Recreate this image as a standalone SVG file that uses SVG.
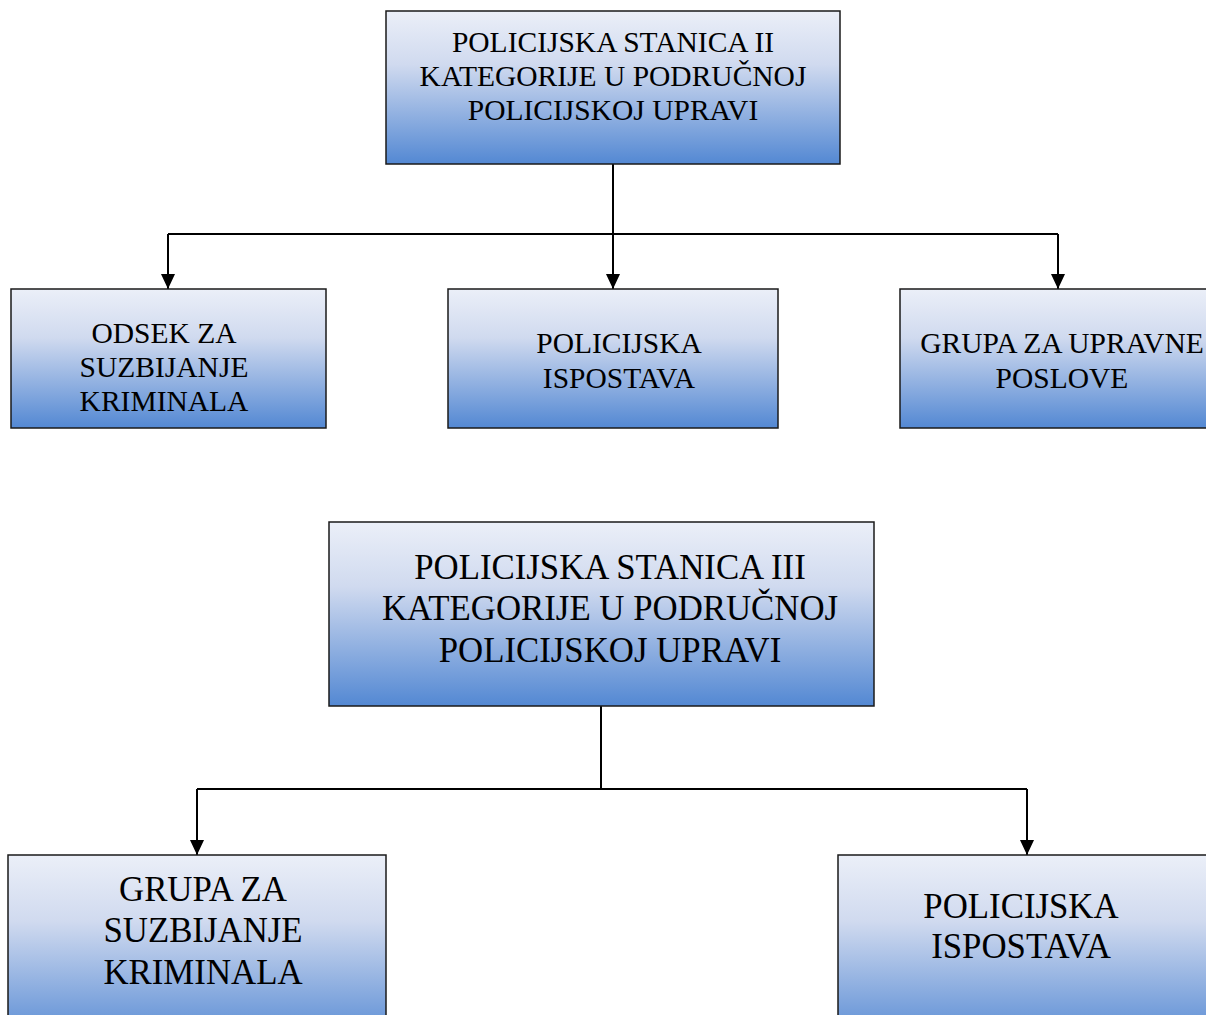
<svg xmlns="http://www.w3.org/2000/svg" width="1206" height="1015" viewBox="0 0 1206 1015">
<style>
.box{fill:url(#g);stroke:#1a1a1a;stroke-width:1.5}
text{font-family:"Liberation Serif","Times New Roman","DejaVu Serif",serif;fill:#000;text-anchor:middle}
.s{font-size:29.5px}
.l{font-size:34.8px}
.c{fill:none;stroke:#000;stroke-width:2}
</style>
<defs>
<linearGradient id="g" x1="0" y1="0" x2="0" y2="1">
<stop offset="0" stop-color="#ebeff8"/>
<stop offset="0.35" stop-color="#d0daef"/>
<stop offset="1" stop-color="#5388d3"/>
</linearGradient>
<marker id="a" markerWidth="15" markerHeight="14" refX="15" refY="7" orient="auto" markerUnits="userSpaceOnUse" viewBox="0 0 15 14">
<path d="M0,0 L15,7 L0,14 Z" fill="#000"/>
</marker>
</defs>
<g id="connectors">
<path class="c" d="M613,164 V234"/>
<path class="c" d="M168,234 H1058"/>
<path class="c" d="M168,234 V289" marker-end="url(#a)"/>
<path class="c" d="M613,234 V289" marker-end="url(#a)"/>
<path class="c" d="M1058,234 V289" marker-end="url(#a)"/>
<path class="c" d="M601,706 V789"/>
<path class="c" d="M197,789 H1027"/>
<path class="c" d="M197,789 V855" marker-end="url(#a)"/>
<path class="c" d="M1027,789 V855" marker-end="url(#a)"/>
</g>
<g id="ps2">
<rect class="box" x="386" y="11" width="454" height="153"/>
<text class="s" x="613" y="52">POLICIJSKA STANICA II</text>
<text class="s" x="613" y="86">KATEGORIJE U PODRUČNOJ</text>
<text class="s" x="613" y="120">POLICIJSKOJ UPRAVI</text>
</g>
<g id="odsek">
<rect class="box" x="11" y="289" width="315" height="139"/>
<text class="s" x="164" y="343">ODSEK ZA</text>
<text class="s" x="164" y="377">SUZBIJANJE</text>
<text class="s" x="164" y="411">KRIMINALA</text>
</g>
<g id="ispostava1">
<rect class="box" x="448" y="289" width="330" height="139"/>
<text class="s" x="619" y="353">POLICIJSKA</text>
<text class="s" x="619" y="388">ISPOSTAVA</text>
</g>
<g id="upravne">
<rect class="box" x="900" y="289" width="320" height="139"/>
<text class="s" x="1062" y="353">GRUPA ZA UPRAVNE</text>
<text class="s" x="1062" y="388">POSLOVE</text>
</g>
<g id="ps3">
<rect class="box" x="329" y="522" width="545" height="184"/>
<text class="l" x="610" y="579">POLICIJSKA STANICA III</text>
<text class="l" x="610" y="620">KATEGORIJE U PODRUČNOJ</text>
<text class="l" x="610" y="662">POLICIJSKOJ UPRAVI</text>
</g>
<g id="grupa">
<rect class="box" x="8" y="855" width="378" height="190"/>
<text class="l" x="203" y="901">GRUPA ZA</text>
<text class="l" x="203" y="942">SUZBIJANJE</text>
<text class="l" x="203" y="984">KRIMINALA</text>
</g>
<g id="ispostava2">
<rect class="box" x="838" y="855" width="380" height="190"/>
<text class="l" x="1021" y="918">POLICIJSKA</text>
<text class="l" x="1021" y="958">ISPOSTAVA</text>
</g>
</svg>
